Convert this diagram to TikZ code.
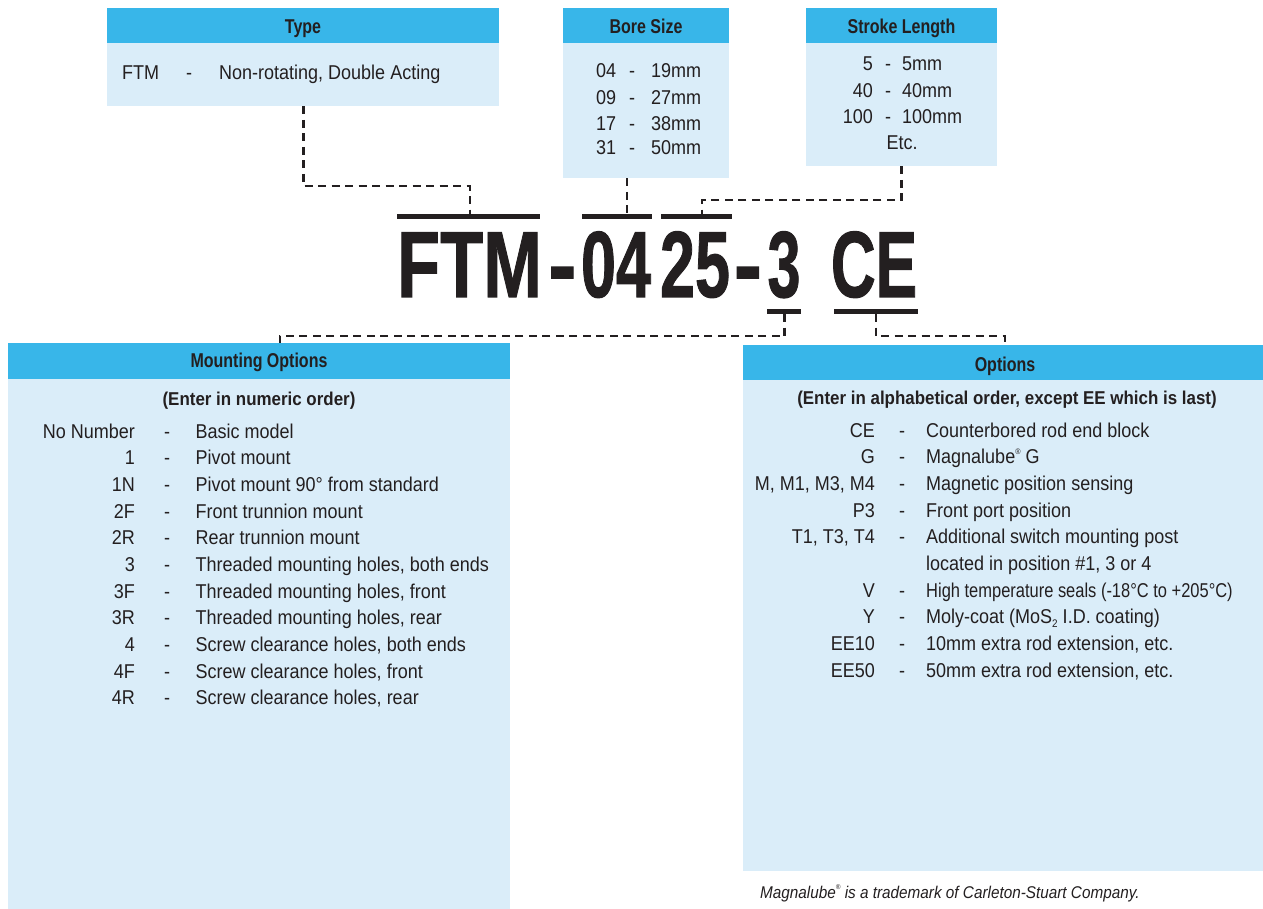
\documentclass[tikz,border=0pt]{standalone}
\usepackage{fontspec}
\setmainfont{Liberation Sans}[FakeStretch=0.9]
\newfontfamily\hdrfnt{Liberation Sans}[FakeStretch=0.8]
\newfontfamily\ttlfnt{Liberation Sans}[FakeStretch=0.91]
\newfontfamily\codefnt{Liberation Sans}[FakeBold=1.2]
\definecolor{hdcol}{RGB}{56,182,233}
\definecolor{bdcol}{RGB}{218,237,249}
\definecolor{ink}{RGB}{35,31,32}
\tikzset{
  hbox/.style={fill=hdcol, inner sep=0pt, anchor=north west},
  bbox/.style={fill=bdcol, inner sep=0pt, anchor=north west},
  htxt/.style={inner sep=0pt, anchor=base, text=ink, font=\hdrfnt\bfseries\fontsize{20}{24}\selectfont},
  ttxt/.style={inner sep=0pt, anchor=base, text=ink, font=\ttlfnt\bfseries\fontsize{18.6}{22}\selectfont},
  tx/.style={inner sep=0pt, text=ink, font=\fontsize{20}{24}\selectfont},
  codeR/.style={tx, anchor=base east},
  dashT/.style={tx, anchor=base},
  descL/.style={tx, anchor=base west},
  bigpart/.style={inner sep=0pt, anchor=base, text=ink, font=\codefnt\bfseries\fontsize{94}{94}\selectfont},
  bar/.style={draw=ink, line width=5pt},
  conn/.style={draw=ink, line width=2.6pt, dash pattern=on 8pt off 5.5pt}
}
\begin{document}
\begin{tikzpicture}[x=1pt,y=-1pt]
\useasboundingbox (0,0) rectangle (1263,909);
\fill[white] (0,0) rectangle (1263,909);

% ---- Type
\node[hbox, minimum width=392, minimum height=35] (typeH) at (107,8) {};
\node[bbox, minimum width=392, minimum height=63] (typeB) at (107,43) {};
\node[htxt] (typeT) at (303,34) {Type};
\node[descL] (t1c) at (122,80) {FTM};
\node[dashT] (t1d) at (189,80) {-};
\node[descL] (t1v) at (219,80) {Non-rotating, Double Acting};

% ---- Bore Size
\node[hbox, minimum width=166, minimum height=35] (boreH) at (563,8) {};
\node[bbox, minimum width=166, minimum height=135] (boreB) at (563,43) {};
\node[htxt] (boreT) at (646,34) {Bore Size};
\foreach \c/\v/\y [count=\i] in {04/19mm/78,09/27mm/104.5,17/38mm/130.5,31/50mm/155}{
  \node[descL] (bc\i) at (596,\y) {\c};
  \node[dashT] (bd\i) at (632,\y) {-};
  \node[descL] (bv\i) at (651,\y) {\v};
}

% ---- Stroke Length
\node[hbox, minimum width=191, minimum height=35] (strH) at (806,8) {};
\node[bbox, minimum width=191, minimum height=123] (strB) at (806,43) {};
\node[htxt] (strT) at (901.5,34) {Stroke Length};
\foreach \c/\v/\y [count=\i] in {5/5mm/71,40/40mm/98,100/100mm/124}{
  \node[codeR] (sc\i) at (873,\y) {\c};
  \node[dashT] (sd\i) at (888,\y) {-};
  \node[descL] (sv\i) at (902,\y) {\v};
}
\node[dashT] (setc) at (902,150) {Etc.};

% ---- Model code
\node[bigpart] (pFTM) at (469.5,297) {\scalebox{0.75}[1]{FTM}};
\node[bigpart] (pD1)  at (562.5,297) {\scalebox{0.9}[1]{-}};
\node[bigpart] (p04)  at (616,297)   {\scalebox{0.67}[1]{04}};
\node[bigpart] (p25)  at (695,297)   {\scalebox{0.67}[1]{25}};
\node[bigpart] (pD2)  at (748,297)   {\scalebox{0.9}[1]{-}};
\node[bigpart] (p3)   at (784,297)   {\scalebox{0.63}[1]{3}};
\node[bigpart] (pCE)  at (874,297)   {\scalebox{0.66}[1]{CE}};
\draw[bar] (397,216.5) -- (540,216.5);
\draw[bar] (582,216.5) -- (652,216.5);
\draw[bar] (661,216.5) -- (732,216.5);
\draw[bar] (767,311.5) -- (801,311.5);
\draw[bar] (834,311.5) -- (918,311.5);
\coordinate (c1) at (470,214);
\coordinate (c2) at (627,214);
\coordinate (c3) at (702,214);
\coordinate (c4) at (784.5,314);
\coordinate (c5) at (876,314);
\coordinate (j1) at (470,186);
\coordinate (j3) at (702,200);
\coordinate (j4) at (280,336);
\coordinate (j5) at (1005,336);

% ---- Mounting Options
\node[hbox, minimum width=502, minimum height=36] (mntH) at (8,343) {};
\node[bbox, minimum width=502, minimum height=530] (mntB) at (8,379) {};
\node[htxt] (mntT) at (259,367) {Mounting Options};
\node[ttxt] (mntS) at (259,405.5) {(Enter in numeric order)};
\foreach \c/\v [count=\i from 0] in {
  No Number/Basic model,
  1/Pivot mount,
  1N/Pivot mount 90° from standard,
  2F/Front trunnion mount,
  2R/Rear trunnion mount,
  3/{Threaded mounting holes, both ends},
  3F/{Threaded mounting holes, front},
  3R/{Threaded mounting holes, rear},
  4/{Screw clearance holes, both ends},
  4F/{Screw clearance holes, front},
  4R/{Screw clearance holes, rear}}{
  \pgfmathsetmacro{\yy}{438.2+26.67*\i}
  \node[codeR] (mc\i) at (135,\yy) {\c};
  \node[dashT] (md\i) at (167,\yy) {-};
  \node[descL] (mv\i) at (195.5,\yy) {\v};
}

% ---- Options
\node[hbox, minimum width=520, minimum height=35] (optH) at (743,345) {};
\node[bbox, minimum width=520, minimum height=491] (optB) at (743,380) {};
\node[htxt] (optT) at (1005,371) {Options};
\node[ttxt] (optS) at (1007,404.5) {(Enter in alphabetical order, except EE which is last)};
\foreach \c/\v [count=\i from 0] in {
  CE/Counterbored rod end block,
  G/{Magnalube\raisebox{0.9ex}{\fontsize{8}{8}\selectfont®} G},
  {M, M1, M3, M4}/Magnetic position sensing,
  P3/Front port position,
  {T1, T3, T4}/Additional switch mounting post,
  {}/{located in position \#1, 3 or 4},
  V/{\scalebox{0.915}[1]{High temperature seals (-18°C to +205°C)}},
  Y/{Moly-coat (MoS\raisebox{-0.35ex}{\fontsize{11}{11}\selectfont 2} I.D. coating)},
  EE10/{10mm extra rod extension, etc.},
  EE50/{50mm extra rod extension, etc.}}{
  \pgfmathsetmacro{\yy}{437.2+26.67*\i}
  \node[codeR] (oc\i) at (875,\yy) {\c};
  \node[descL] (ov\i) at (926,\yy) {\v};
}
\foreach \i in {0,1,2,3,4,6,7,8,9}{
  \pgfmathsetmacro{\yy}{437.2+26.67*\i}
  \node[dashT] (od\i) at (902,\yy) {-};
}

% ---- Footnote
\node[inner sep=0pt, anchor=base west, text=ink, font=\itshape\fontsize{17}{20}\selectfont] (foot) at (760,898)
  {Magnalube\raisebox{0.9ex}{\fontsize{7}{7}\selectfont®} is a trademark of Carleton-Stuart Company.};

% ---- Connectors
\draw[conn] (typeB.south) |- (j1) -- (c1);
\draw[conn] (boreB.south -| c2) -- (c2);
\draw[conn] (strB.south) |- (j3) -- (c3);
\draw[conn] (c4) |- (j4) -- (mntH.north -| j4);
\draw[conn] (c5) |- (j5) -- (optH.north -| j5);
\end{tikzpicture}
\end{document}
